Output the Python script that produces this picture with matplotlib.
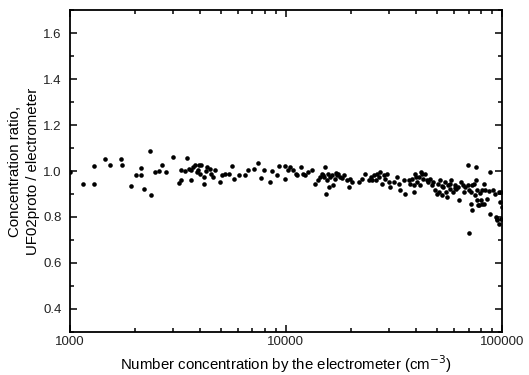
import matplotlib.pyplot as plt
from matplotlib.ticker import FixedLocator, LogLocator, NullFormatter, MultipleLocator

plt.rcParams['font.family'] = ['Liberation Sans', 'DejaVu Sans']

# electrometer concentration (cm^-3) and concentration ratio
conc = [1000, 1145, 1287, 1287, 1452, 1528, 1723, 1748, 1924, 2015,
        2139, 2139, 2194, 2339, 2382, 2478, 2578, 2660, 2786, 3000,
        3199, 3256, 3256, 3420, 3500, 3560, 3630, 3650, 3720, 3780,
        3860, 3950, 4000, 4060, 4170, 4170, 4330, 4460, 4490, 4620,
        4700, 4940, 5060, 5240, 5430, 5600, 5750, 6090, 6440, 6700,
        7100, 7390, 7680, 7900, 8400, 8600, 9060, 9330, 9900, 9940,
        10200, 10400, 10800, 11100, 11300, 11700, 12000, 12300, 12700, 13200,
        13600, 14100, 14400, 14700, 14900, 15200, 15300, 15500, 15700, 15900,
        16000, 16300, 16600, 17200, 17500, 17800, 18500, 19200, 19500, 19800,
        20200, 21700, 22500, 23300, 24200, 25100, 25500, 26000, 26400, 26900,
        27300, 27800, 28300, 28800, 29900, 30400, 31600, 32700, 33200, 33800,
        35100, 35700, 37100, 37700, 38400, 39000, 39000, 39700, 40400, 41100,
        41800, 42000, 43000, 44000, 45600, 46400, 47200, 48000, 49000, 49900,
        50800, 51300, 51600, 52500, 53400, 54300, 55300, 55800, 56200, 57200,
        58200, 59200, 60300, 61300, 62400, 63500, 64600, 65800, 66900, 69300,
        70500, 73000, 74300, 74900, 76500, 77900, 80200, 80700, 82100, 83600,
        85100, 69300, 70500, 71700, 71700, 72400, 75800, 76000, 76500, 77200,
        79000, 80700, 82100, 86800, 90700, 88400, 88400, 92400, 93400, 94400,
        95000, 96900, 96900, 98300, 98600, 98600, 100000,
        3900, 4250, 15000, 16800, 17000, 18100, 24700, 29300, 40000, 42600,
        44800, 53000, 57700, 60800, 67500]
ratio = [0.995, 0.942, 1.020, 0.945, 1.054, 1.025, 1.054, 1.025, 0.936, 0.984,
         1.012, 0.984, 0.922, 1.086, 0.894, 0.994, 0.999, 1.025, 0.997, 1.062,
         0.946, 0.959, 1.006, 0.999, 1.055, 1.010, 0.962, 1.003, 1.017, 1.025,
         0.996, 1.025, 0.988, 1.028, 0.974, 0.944, 1.017, 1.010, 0.988, 0.974,
         1.003, 0.952, 0.981, 0.988, 0.985, 1.020, 0.964, 0.984, 0.984, 1.003,
         1.010, 1.036, 0.971, 1.003, 0.952, 1.000, 0.981, 1.020, 1.020, 0.964,
         1.006, 1.017, 1.003, 0.988, 0.981, 1.017, 0.988, 0.981, 0.996, 1.003,
         0.945, 0.959, 0.974, 0.988, 0.981, 1.017, 0.901, 0.959, 0.988, 0.930,
         0.974, 0.981, 0.937, 0.981, 0.988, 0.974, 0.981, 0.959, 0.930, 0.966,
         0.952, 0.952, 0.966, 0.988, 0.959, 0.959, 0.981, 0.959, 0.988, 0.974,
         0.996, 0.945, 0.981, 0.966, 0.952, 0.930, 0.952, 0.974, 0.945, 0.916,
         0.959, 0.901, 0.959, 0.945, 0.966, 0.909, 0.937, 0.988, 0.952, 0.974,
         0.937, 0.996, 0.966, 0.988, 0.952, 0.966, 0.937, 0.952, 0.916, 0.901,
         0.945, 0.909, 0.959, 0.894, 0.930, 0.952, 0.909, 0.887, 0.937, 0.923,
         0.959, 0.909, 0.937, 0.923, 0.930, 0.872, 0.952, 0.937, 0.909, 0.937,
         0.916, 0.937, 0.945, 0.894, 0.916, 0.851, 0.872, 0.916, 0.942, 0.916,
         0.880, 1.028, 0.730, 0.858, 0.909, 0.829, 0.959, 1.017, 0.875, 0.851,
         0.904, 0.858, 0.858, 0.913, 0.916, 0.996, 0.814, 0.901, 0.800, 0.785,
         0.792, 0.771, 0.909, 0.865, 0.909, 0.792, 0.843,
         1.005, 0.998, 0.972, 0.965, 0.990, 0.970, 0.975, 0.985, 0.975, 0.985,
         0.960, 0.935, 0.945, 0.925, 0.930]

x_ticks = [1000, 10000, 100000]
y_ticks = [0.4, 0.6, 0.8, 1.0, 1.2, 1.4, 1.6]

fig = plt.figure(figsize=(5.29, 3.75), dpi=100)
ax = fig.add_axes([0.132, 0.115, 0.817, 0.858])

ax.plot(conc, ratio, 'o', color='black', markersize=3.3, markeredgewidth=0)

ax.set_xscale('log')
ax.set_xlim(1000, 100000)
ax.set_ylim(0.3, 1.7)
ax.xaxis.set_major_locator(FixedLocator(x_ticks))
ax.set_xticklabels([str(t) for t in x_ticks])
ax.xaxis.set_minor_locator(LogLocator(base=10, subs=range(2, 10)))
ax.xaxis.set_minor_formatter(NullFormatter())
ax.set_yticks(y_ticks)
ax.set_yticklabels([f'{t:.1f}' for t in y_ticks])
ax.yaxis.set_minor_locator(MultipleLocator(0.1))

ax.tick_params(which='both', direction='in', top=True, right=True,
               labelsize=9.5, width=1.1, colors='black', labelcolor='#222222')
ax.tick_params(which='major', length=5)
ax.tick_params(which='minor', length=3)
ax.tick_params(axis='x', pad=3)
ax.tick_params(axis='y', pad=6)
for s in ax.spines.values():
    s.set_linewidth(1.3)

ax.set_xlabel('Number concentration by the electrometer (cm$^{-3}$)', fontsize=10.8, labelpad=4)
ax.set_ylabel('Concentration ratio,\nUF02proto / electrometer', fontsize=10.8,
              labelpad=2, linespacing=1.35)

fig.savefig('out.png', dpi=100)
